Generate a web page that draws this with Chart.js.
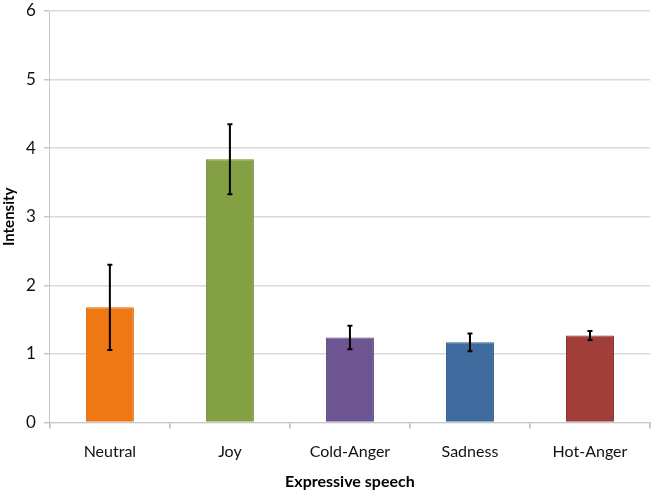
<!DOCTYPE html>
<html>
<head>
<meta charset="utf-8">
<script src="https://cdn.jsdelivr.net/npm/chart.js@4.4.1/dist/chart.umd.min.js"></script>
<style>
html,body{margin:0;padding:0;background:#fff;}
#wrap{width:659px;height:501px;}
</style>
</head>
<body>
<div id="wrap"><canvas id="c" width="659" height="501"></canvas></div>
<script>
const categories = ["Neutral", "Joy", "Cold-Anger", "Sadness", "Hot-Anger"];
const intensity = [1.68, 3.84, 1.24, 1.17, 1.27];
const errors = [0.62, 0.51, 0.17, 0.13, 0.065];
const barColors = ["#F07814", "#84A044", "#6C5591", "#3F6B9E", "#A23E3A"];
const borderColors = ["#D8680E", "#6E8A36", "#5A4680", "#345C8A", "#8C3431"];
const yTicks = [0, 1, 2, 3, 4, 5, 6];

const errorBarPlugin = {
  id: 'errorBars',
  afterDatasetsDraw(chart) {
    const ctx = chart.ctx;
    const yScale = chart.scales.y;
    const meta = chart.getDatasetMeta(0);
    ctx.save();
    ctx.strokeStyle = '#000';
    ctx.lineWidth = 2;
    meta.data.forEach((bar, i) => {
      const x = bar.x;
      const top = yScale.getPixelForValue(intensity[i] + errors[i]);
      const bot = yScale.getPixelForValue(intensity[i] - errors[i]);
      ctx.beginPath();
      ctx.moveTo(x, top); ctx.lineTo(x, bot);
      ctx.moveTo(x - 2.5, top); ctx.lineTo(x + 2.5, top);
      ctx.moveTo(x - 2.5, bot); ctx.lineTo(x + 2.5, bot);
      ctx.stroke();
    });
    ctx.restore();
  }
};

new Chart(document.getElementById('c'), {
  type: 'bar',
  data: {
    labels: categories,
    datasets: [{
      data: intensity,
      backgroundColor: barColors,
      borderColor: borderColors,
      borderWidth: 1,
      barPercentage: 0.4,
      categoryPercentage: 1.0
    }]
  },
  options: {
    responsive: false,
    animation: false,
    devicePixelRatio: 1,
    layout: { padding: { left: 0, right: 9, top: 11, bottom: 10 } },
    plugins: { legend: { display: false }, tooltip: { enabled: false } },
    scales: {
      x: {
        offset: true,
        grid: {
          offset: true,
          display: true,
          drawOnChartArea: true,
          color: ctx => ctx.index === categories.length ? '#b4b4b4' : 'rgba(0,0,0,0)',
          tickColor: '#c8c8c8',
          tickLength: 6,
          lineWidth: 2
        },
        border: { display: true, color: '#c8c8c8', width: 1 },
        ticks: { color: '#111', font: { family: 'Lato', size: 16 }, padding: 14 },
        title: { display: true, text: 'Expressive speech', color: '#000', font: { family: 'Lato', size: 16, weight: 'bold' }, padding: { top: -4, bottom: 0 } }
      },
      y: {
        min: 0, max: 6,
        afterBuildTicks: axis => { axis.ticks = yTicks.map(v => ({ value: v })); },
        afterFit: s => { s.paddingTop = 0; },
        grid: { color: '#d9d9d9', tickColor: '#c8c8c8', tickLength: 6, lineWidth: 1.5 },
        border: { display: true, color: '#c8c8c8', width: 1 },
        ticks: { color: '#111', font: { family: 'Lato', size: 17 }, padding: 8 },
        title: { display: true, text: 'Intensity', color: '#000', font: { family: 'Lato', size: 15, weight: 'bold' }, padding: { top: 0, bottom: 0 } }
      }
    }
  },
  plugins: [errorBarPlugin]
});
</script>
</body>
</html>
